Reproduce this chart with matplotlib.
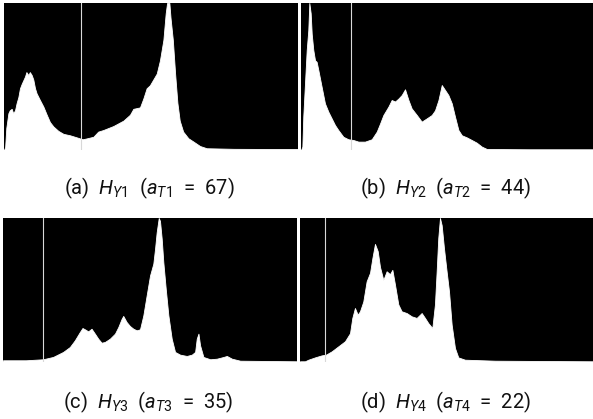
import matplotlib
matplotlib.use("Agg")
import matplotlib.pyplot as plt

plt.rcParams['font.family'] = ['Roboto', 'DejaVu Sans']
plt.rcParams['font.weight'] = 'normal'
plt.rcParams['mathtext.fontset'] = 'custom'
plt.rcParams['mathtext.rm'] = 'Roboto'
plt.rcParams['mathtext.it'] = 'Roboto:italic'

# gray level vs. relative histogram height (1.0 = top of panel, peaks clipped)
g_y1 = [0, 1, 2, 3.8, 5, 6.7, 8, 9.6, 11, 12.5, 13.9, 15.4, 18.3, 19.5, 21.2, 22.5,
        24.1, 25.5, 27, 28.4, 31.3, 34.3, 37.2, 40, 43, 47.3, 51.7, 57.5, 63.3,
        68.5, 72, 77.8, 82, 86.5, 95.2, 104, 109.7, 112.6, 118.4, 121.3, 124.2,
        127, 130, 133, 135.8, 138.8, 140.8, 142, 144, 145, 147, 149, 151, 153,
        156, 160.5, 165, 170.7, 176.5, 200, 230, 256]
h_y1 = [0.0, 0.02, 0.15, 0.25, 0.27, 0.28, 0.25, 0.27, 0.32, 0.36, 0.42, 0.45,
        0.50, 0.53, 0.51, 0.53, 0.51, 0.48, 0.42, 0.385, 0.34, 0.295, 0.24, 0.19,
        0.16, 0.13, 0.11, 0.10, 0.086, 0.073, 0.079, 0.09, 0.125, 0.136, 0.163,
        0.20, 0.24, 0.28, 0.29, 0.35, 0.42, 0.44, 0.48, 0.52, 0.61, 0.75, 0.93,
        1.0, 1.0, 0.9, 0.75, 0.52, 0.32, 0.2, 0.125, 0.08, 0.057, 0.027, 0.012,
        0.008, 0.007, 0.007]

g_y2 = [0, 1.2, 2, 3.5, 5, 6.4, 7.3, 8.5, 9.4, 10.8, 12.3, 13.7, 15.2, 18.1, 21,
        24, 26.9, 29.8, 32.7, 37.1, 41.5, 45.9, 50.3, 56.1, 62, 66.4, 69.3, 72.2,
        76.6, 79.5, 82.5, 85.4, 88.3, 91.2, 94.2, 97, 101.5, 105.8, 110.2, 114.6,
        117.5, 120.5, 123.4, 126.3, 129.2, 132.2, 135, 138, 141, 145.3, 149.7,
        154, 158.5, 162.9, 200, 256]
h_y2 = [0.0, 0.023, 0.227, 0.454, 0.68, 0.816, 1.0, 0.93, 0.79, 0.68, 0.61, 0.60,
        0.544, 0.43, 0.317, 0.26, 0.215, 0.17, 0.136, 0.09, 0.073, 0.068, 0.057,
        0.057, 0.073, 0.125, 0.18, 0.238, 0.295, 0.34, 0.33, 0.35, 0.374, 0.413,
        0.34, 0.283, 0.238, 0.193, 0.215, 0.238, 0.27, 0.34, 0.442, 0.408, 0.374,
        0.317, 0.227, 0.136, 0.10, 0.086, 0.068, 0.05, 0.023, 0.007, 0.005, 0.005]

g_y3 = [0, 20, 34.9, 43.6, 52.4, 58.2, 62.5, 66.9, 69.2, 71.3, 74.2, 77.1, 80,
        82.9, 85.8, 88.7, 93.1, 97.5, 100.4, 103.3, 104.7, 107.6, 110.5, 113.5,
        116.4, 119.3, 122.2, 125.1, 128, 130.9, 132.4, 133.8, 135.6, 136.7,
        138.2, 139.6, 141.7, 144, 146.9, 149.8, 154.2, 160, 164.4, 167.3, 168.7,
        170.2, 171.6, 174.5, 180.4, 186.2, 192, 194.9, 199.3, 206.5, 256]
h_y3 = [0.012, 0.012, 0.019, 0.035, 0.07, 0.104, 0.15, 0.208, 0.236, 0.227,
        0.213, 0.231, 0.197, 0.162, 0.134, 0.139, 0.162, 0.197, 0.243, 0.30,
        0.32, 0.278, 0.25, 0.231, 0.22, 0.227, 0.324, 0.463, 0.60, 0.683, 0.787,
        0.90, 1.0, 0.98, 0.856, 0.694, 0.509, 0.324, 0.162, 0.07, 0.051, 0.042,
        0.051, 0.07, 0.162, 0.197, 0.116, 0.035, 0.019, 0.023, 0.035, 0.042,
        0.023, 0.009, 0.005]

g_y4 = [0, 4.4, 7.3, 13.1, 18.9, 22.7, 27.7, 33.5, 39.3, 43.7, 45.7, 48, 50.4,
        52.4, 55.3, 58.2, 61.2, 63.2, 65.5, 67.9, 69.9, 72.8, 75.7, 78.6, 80.7,
        83, 85.9, 88.8, 93.2, 97.6, 101.9, 106.3, 109.2, 112.1, 115.6, 117.9,
        119.4, 120.8, 122.3, 123.8, 125.8, 128.1, 130.2, 132.5, 135.4, 138.3,
        144.1, 170.4, 256]
h_y4 = [0.005, 0.005, 0.016, 0.032, 0.046, 0.051, 0.074, 0.109, 0.144, 0.2,
        0.306, 0.375, 0.329, 0.352, 0.42, 0.56, 0.62, 0.72, 0.82, 0.77, 0.66,
        0.57, 0.63, 0.61, 0.64, 0.537, 0.40, 0.352, 0.34, 0.317, 0.306, 0.34,
        0.306, 0.27, 0.236, 0.40, 0.63, 0.86, 1.0, 0.95, 0.79, 0.63, 0.49, 0.26,
        0.097, 0.032, 0.016, 0.009, 0.005]

grays = [g_y1, g_y2, g_y3, g_y4]
heights = [h_y1, h_y2, h_y3, h_y4]
thresholds = [67, 44, 35, 22]
letters = ['a', 'b', 'c', 'd']

# panel rectangles in pixels: x0, y0 (top), x1, y1 (bottom)
boxes = [(4, 3, 298, 150), (301, 3, 593, 150),
         (3, 218, 297, 362), (300, 218, 593, 362)]
label_pos = [(149, 188), (446, 188), (148, 402), (446, 402)]

W, H = 593, 419
fig = plt.figure(figsize=(W / 100, H / 100), dpi=100)

for i in range(4):
    x0, y0, x1, y1 = boxes[i]
    ax = fig.add_axes([x0 / W, 1 - y1 / H, (x1 - x0) / W, (y1 - y0) / H])
    ax.set_facecolor('black')
    ax.fill_between(grays[i], heights[i], 0, color='white', lw=0.6,
                    edgecolor='white')
    ax.axvline(thresholds[i], color='#d8d8d8', lw=0.8)
    ax.set_xlim(0, 256)
    ax.set_ylim(0, 1.0)
    ax.set_xticks([])
    ax.set_yticks([])
    for s in ax.spines.values():
        s.set_visible(False)

    n = i + 1
    label = (f"({letters[i]})  $H_{{\\mathit{{Y{n}}}}}$  "
             f"($a_{{\\mathit{{T{n}}}}}$  =  {thresholds[i]})")
    lx, ly = label_pos[i]
    fig.text(lx / W, 1 - ly / H, label, ha='center', va='center',
             fontsize=14.5, color='#111111')

fig.savefig('out.png', dpi=100)
